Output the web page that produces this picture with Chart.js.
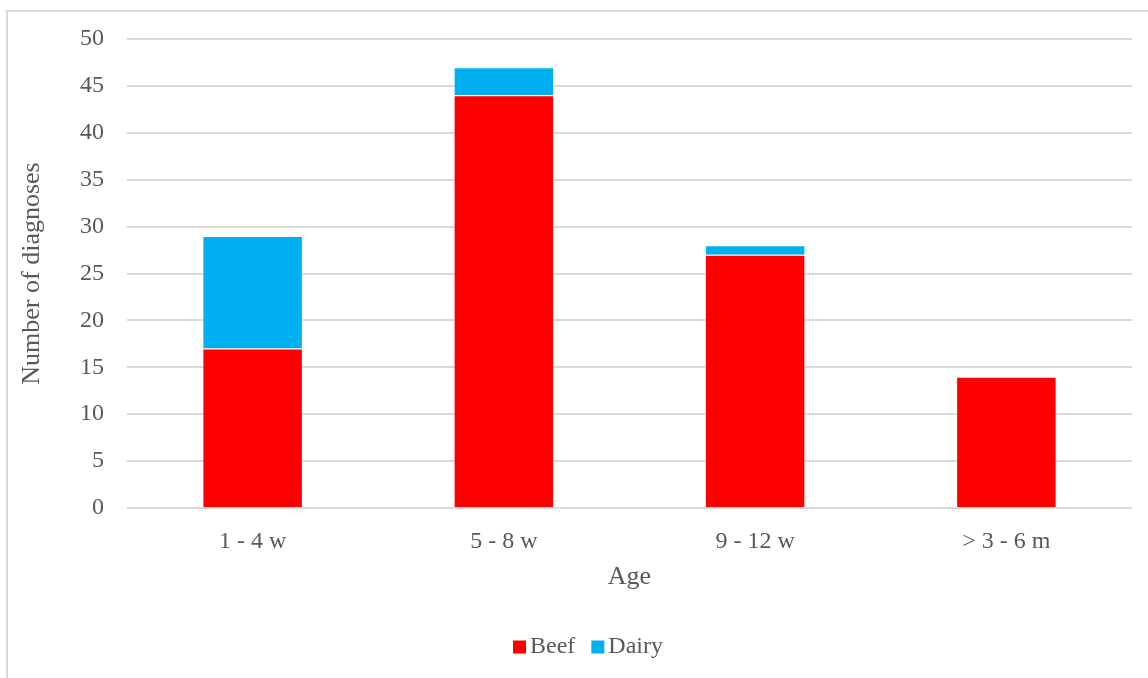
<!DOCTYPE html>
<html>
<head>
<meta charset="utf-8">
<script src="https://cdn.jsdelivr.net/npm/chart.js@4/dist/chart.umd.min.js"></script>
<style>
  html, body { margin: 0; padding: 0; background: #ffffff; }
  #wrap { position: relative; width: 1148px; height: 678px; overflow: hidden; }
  canvas { display: block; }
</style>
</head>
<body>
<div id="wrap"><canvas id="chart" width="1148" height="678"></canvas></div>
<script>
const categories = ['1 - 4 w', '5 - 8 w', '9 - 12 w', '> 3 - 6 m'];
const beef = [17, 44, 27, 14];
const dairy = [12, 3, 1, 0];
const yTicks = [0, 5, 10, 15, 20, 25, 30, 35, 40, 45, 50];

const FONT = '"Liberation Serif", serif';
const TEXT = '#595959';
const GRID = '#d9d9d9';

// Light frame around the whole chart
const framePlugin = {
  id: 'frame',
  beforeDraw(chart) {
    const ctx = chart.ctx;
    ctx.save();
    ctx.strokeStyle = GRID;
    ctx.lineWidth = 2;
    ctx.strokeRect(7, 11, 1160, 700);
    ctx.restore();
  }
};

// Compact legend centred in the chart frame
const legendPlugin = {
  id: 'compactLegend',
  afterDraw(chart) {
    const ctx = chart.ctx;
    const size = 24, box = 13, gapText = 4, gapItem = 16;
    ctx.save();
    ctx.font = size + 'px ' + FONT;
    ctx.textBaseline = 'middle';
    const items = chart.data.datasets.map(ds => ({ label: ds.label, color: ds.backgroundColor }));
    const widths = items.map(it => box + gapText + ctx.measureText(it.label).width);
    const total = widths.reduce((a, b) => a + b, 0) + gapItem * (items.length - 1);
    let x = 588 - total / 2;
    const cy = 647;
    items.forEach((it, i) => {
      ctx.fillStyle = it.color;
      ctx.fillRect(x, cy - box / 2, box, box);
      ctx.fillStyle = TEXT;
      ctx.fillText(it.label, x + box + gapText, cy);
      x += widths[i] + gapItem;
    });
    ctx.restore();
  }
};

new Chart(document.getElementById('chart'), {
  type: 'bar',
  data: {
    labels: categories,
    datasets: [
      { label: 'Beef', data: beef, backgroundColor: '#ff0000', borderColor: 'rgba(255,255,255,0.35)', borderWidth: 1, categoryPercentage: 1, barPercentage: 0.4 },
      { label: 'Dairy', data: dairy, backgroundColor: '#00b0f0', borderColor: 'rgba(255,255,255,0.35)', borderWidth: 1, categoryPercentage: 1, barPercentage: 0.4 }
    ]
  },
  options: {
    responsive: false,
    animation: false,
    layout: { padding: { left: 0, right: 16, top: 39, bottom: 54 } },
    plugins: {
      tooltip: { enabled: false },
      legend: { display: false }
    },
    scales: {
      x: {
        stacked: true,
        grid: { display: false, drawTicks: false },
        border: { display: false },
        ticks: { color: TEXT, font: { family: FONT, size: 24 }, padding: 19 },
        title: { display: true, text: 'Age', color: TEXT, font: { family: FONT, size: 26 }, padding: { top: 0, bottom: 31 } },
        afterFit(scale) { scale.height = 116; }
      },
      y: {
        stacked: true,
        min: 0, max: 50,
        afterBuildTicks(scale) { scale.ticks = yTicks.map(v => ({ value: v })); },
        grid: { color: GRID, lineWidth: 2, drawTicks: false },
        border: { display: false },
        ticks: { color: TEXT, font: { family: FONT, size: 24 }, padding: 23 },
        title: { display: true, text: 'Number of diagnoses', color: TEXT, font: { family: FONT, size: 26 }, padding: { top: 17, bottom: 0 } },
        afterFit(scale) { scale.width = 127; }
      }
    }
  },
  plugins: [framePlugin, legendPlugin]
});
</script>
</body>
</html>
